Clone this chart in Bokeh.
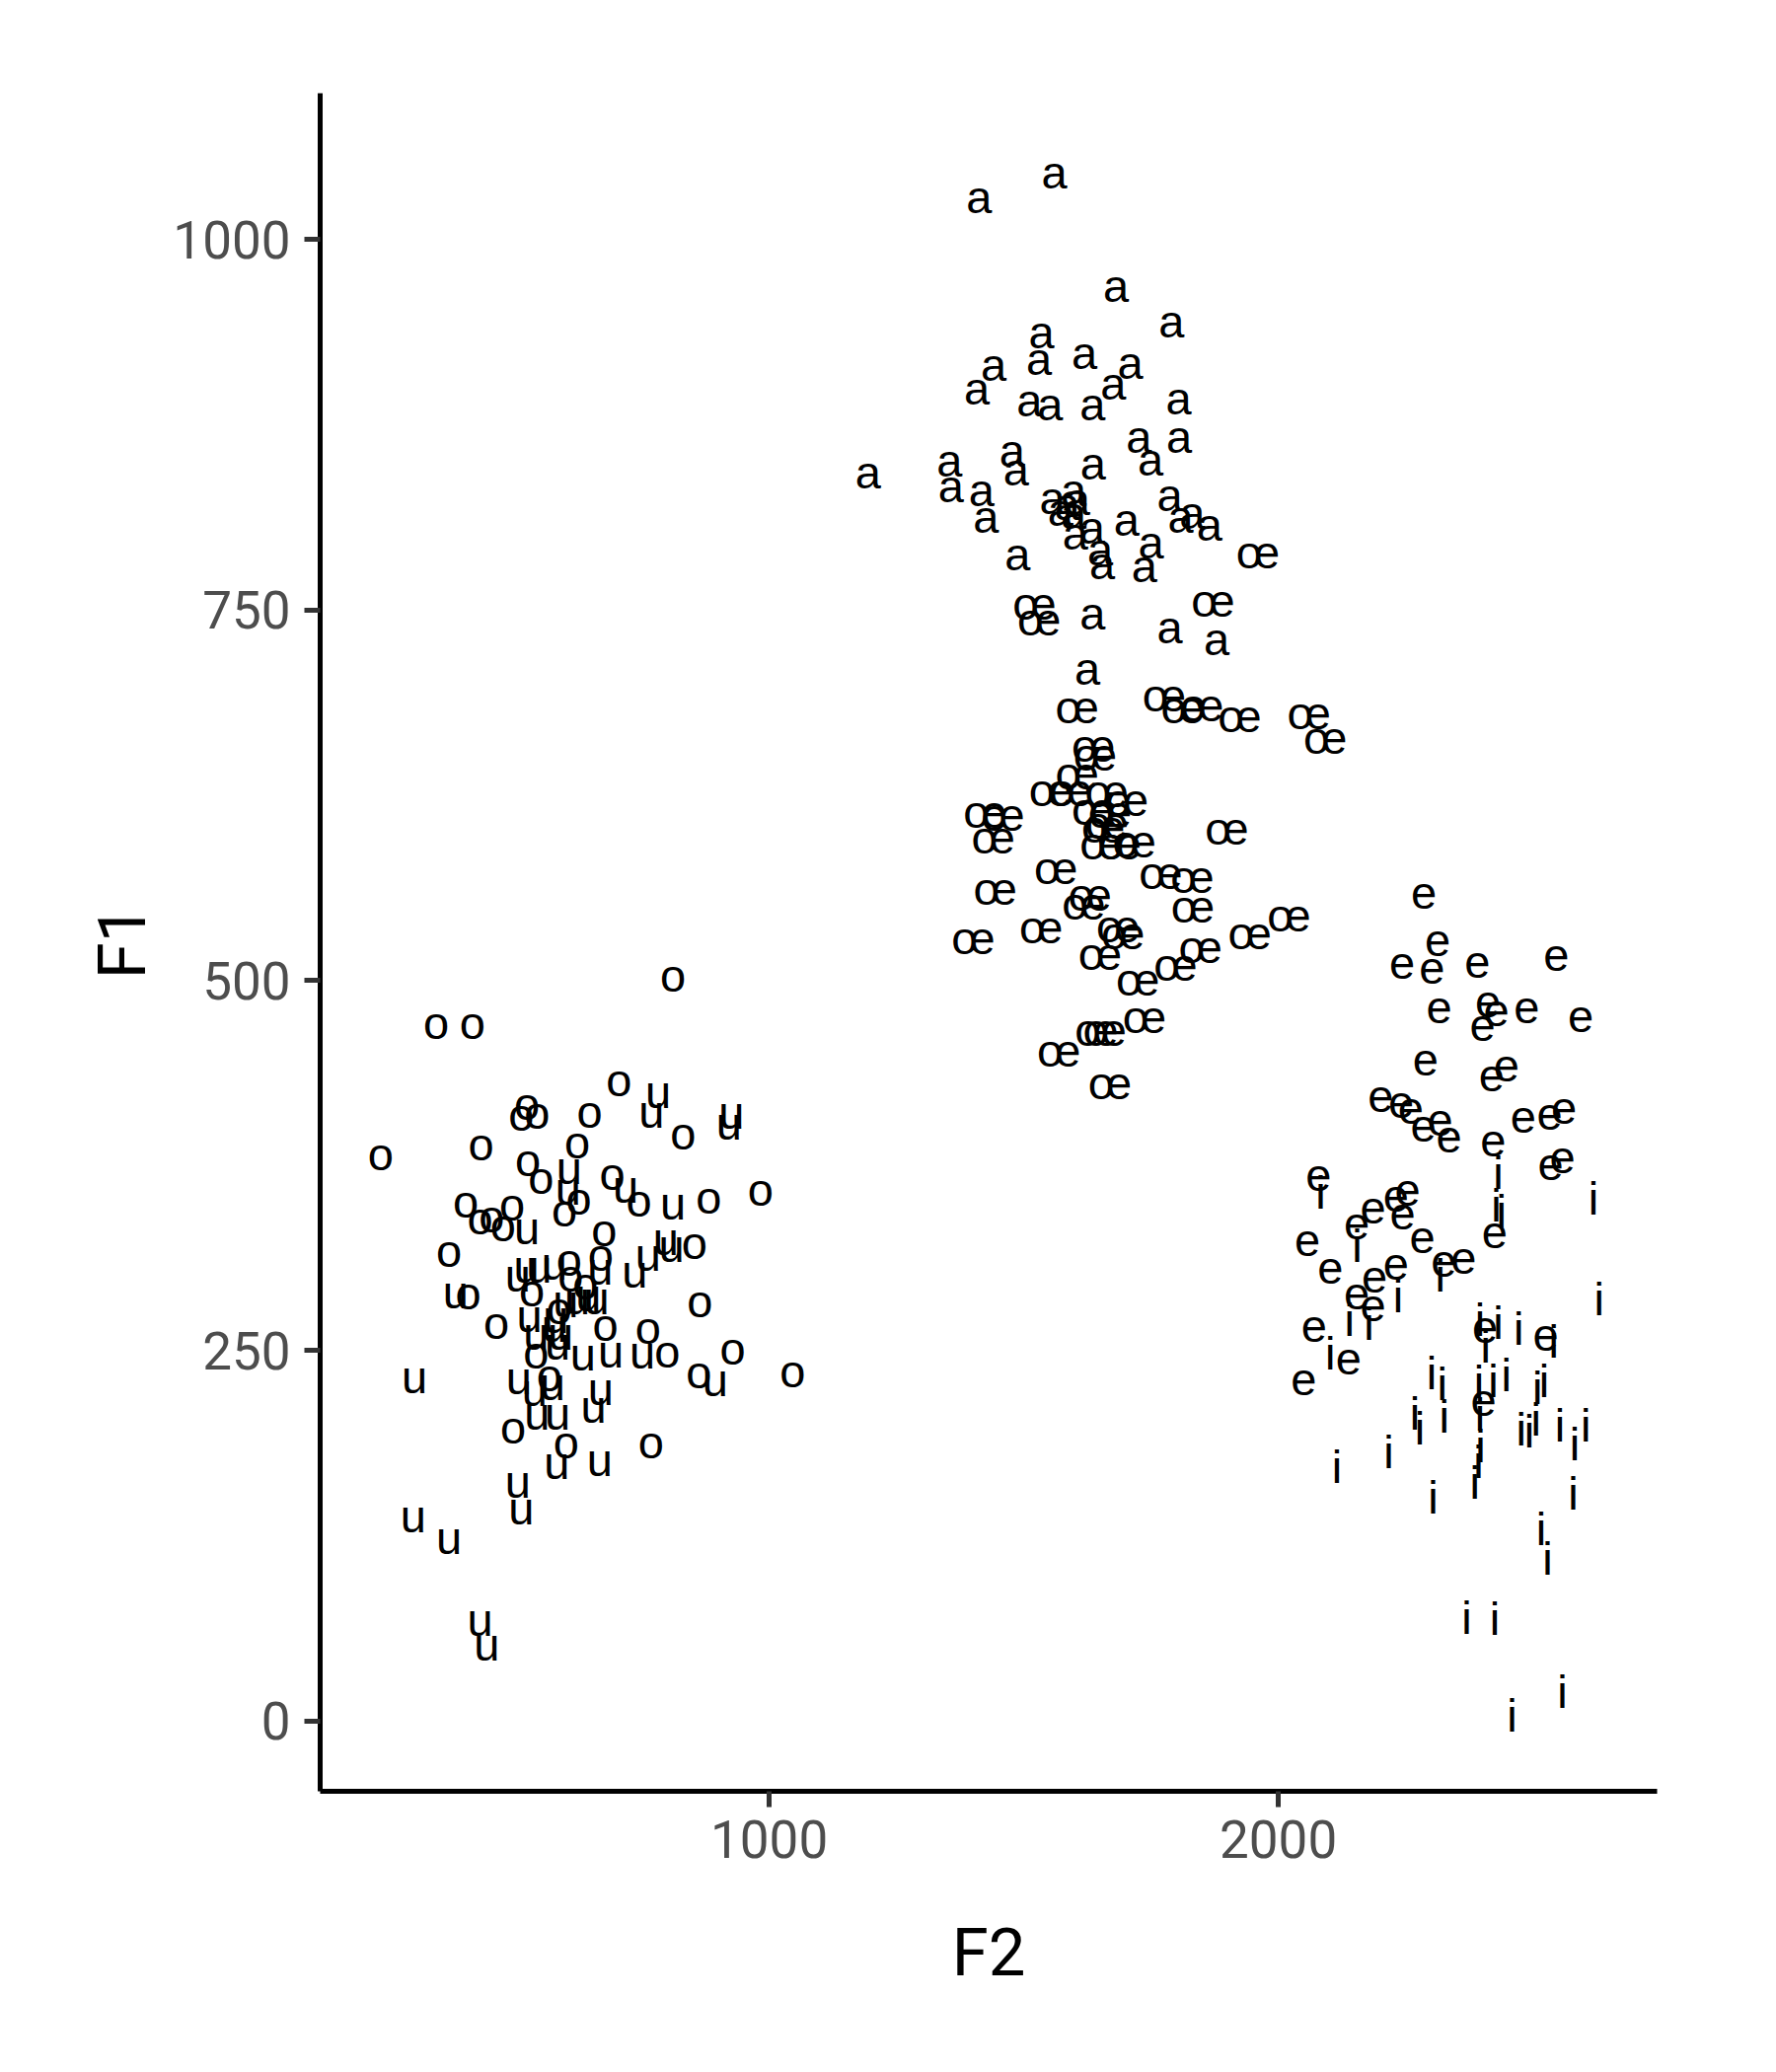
from bokeh.plotting import figure
from bokeh.models import ColumnDataSource, FixedTicker, Range1d
from bokeh.core.properties import value
from bokeh.embed import file_html
from bokeh.resources import INLINE

# ---- data (F2, F1) per vowel ----
a_f2 = [1560, 1412, 1681, 1790, 1535, 1441, 1530, 1619, 1709, 1408, 1511, 1552, 1635, 1676, 1804, 1726,
        1805, 1749, 1477, 1485, 1636, 1194, 1354, 1357, 1417, 1426, 1556, 1598, 1585, 1605, 1572, 1598,
        1601, 1634, 1702, 1650, 1654, 1750, 1737, 1787, 1808, 1831, 1865, 1488, 1635, 1787, 1879, 1625]
a_f1 = [1043, 1026, 966, 942, 935, 913, 917, 921, 914, 897, 889, 886, 886, 900, 890, 864,
        864, 849, 855, 842, 846, 840, 848, 831, 828, 810, 823, 828, 819, 822, 815, 813,
        799, 803, 808, 788, 779, 793, 777, 825, 810, 813, 805, 785, 745, 736, 728, 708]

oe_f2 = [1960, 1521, 1530, 1872, 1605, 1776, 1812, 1850, 1924, 2060, 2092, 1637, 1640, 1605, 1553, 1592,
         1663, 1702, 1637, 1669, 1663, 1656, 1653, 1688, 1717, 1424, 1459, 1440, 1899, 1563, 1769, 1831,
         1444, 1630, 1618, 1832, 2021, 1944, 1401, 1534, 1685, 1695, 1650, 1847, 1798, 1724, 1737, 1643,
         1659, 1569, 1669]
oe_f1 = [786, 752, 741, 754, 682, 690, 682, 683, 676, 678, 661, 656, 650, 637, 626, 626,
         625, 619, 613, 611, 604, 601, 590, 590, 591, 611, 609, 594, 600, 573, 570, 567,
         559, 555, 549, 547, 541, 529, 526, 533, 534, 529, 515, 520, 508, 498, 473, 464,
         464, 450, 428]

e_f2 = [2286, 2313, 2243, 2302, 2391, 2546, 2316, 2412, 2428, 2401, 2488, 2594, 2289, 2448, 2419, 2201,
        2241, 2260, 2285, 2318, 2335, 2422, 2481, 2533, 2561, 2535, 2558, 2079, 2254, 2231, 2186, 2244,
        2154, 2057, 2425, 2283, 2102, 2231, 2325, 2364, 2189, 2154, 2186, 2070, 2138, 2050, 2406, 2525,
        2403]
e_f1 = [556, 524, 509, 506, 510, 514, 479, 483, 477, 467, 479, 473, 444, 440, 433, 419,
        415, 411, 399, 403, 392, 389, 405, 407, 411, 373, 378, 366, 356, 352, 344, 340,
        333, 322, 327, 324, 303, 306, 308, 310, 297, 286, 278, 264, 242, 228, 263, 258,
        214]

i_f2 = [2432, 2083, 2619, 2428, 2438, 2155, 2318, 2235, 2140, 2178, 2102, 2630, 2396, 2432, 2407, 2472,
        2541, 2301, 2322, 2394, 2422, 2448, 2509, 2522, 2268, 2278, 2326, 2396, 2477, 2493, 2506, 2553,
        2582, 2604, 2217, 2397, 2393, 2115, 2386, 2304, 2579, 2516, 2529, 2370, 2425, 2558, 2459]
i_f1 = [370, 357, 353, 348, 344, 321, 301, 287, 271, 268, 248, 285, 271, 269, 253, 265,
        256, 235, 228, 229, 230, 234, 225, 230, 208, 198, 206, 207, 197, 196, 204, 200,
        187, 200, 182, 186, 175, 172, 161, 151, 154, 130, 110, 70, 69, 20, 4]

o_f2 = [811, 346, 417, 705, 524, 513, 544, 647, 831, 237, 434, 623, 526, 552, 692, 626,
        744, 881, 983, 404, 495, 432, 455, 477, 598, 676, 371, 853, 669, 607, 534, 610,
        639, 409, 864, 587, 464, 678, 762, 542, 800, 928, 862, 1046, 568, 497, 601, 768]
o_f1 = [501, 469, 469, 430, 414, 407, 408, 409, 394, 380, 387, 388, 376, 364, 367, 350,
        349, 351, 356, 348, 346, 337, 338, 332, 342, 329, 315, 320, 312, 309, 288, 298,
        293, 286, 281, 276, 266, 265, 263, 246, 247, 249, 233, 234, 231, 196, 186, 186]

u_f2 = [782, 769, 926, 921, 607, 718, 605, 811, 524, 797, 808, 762, 736, 506, 523, 548,
        578, 668, 384, 600, 623, 645, 661, 529, 581, 542, 590, 584, 578, 634, 689, 751,
        894, 303, 508, 539, 574, 669, 655, 544, 584, 583, 667, 506, 513, 301, 371, 432, 445]
u_f1 = [422, 409, 408, 401, 371, 358, 357, 347, 330, 323, 318, 312, 301, 298, 304, 304,
        306, 303, 287, 281, 283, 285, 283, 271, 270, 259, 259, 252, 264, 245, 247, 246,
        228, 230, 229, 221, 225, 222, 210, 205, 205, 172, 174, 159, 141, 136, 121, 66, 49]

vowel_names = ["a", "œ", "e", "i", "o", "u"]
f2_series = [a_f2, oe_f2, e_f2, i_f2, o_f2, u_f2]
f1_series = [a_f1, oe_f1, e_f1, i_f1, o_f1, u_f1]

x_ticks = [1000, 2000]
y_ticks = [0, 250, 500, 750, 1000]


def build_source(names):
    xs, ys, labels = [], [], []
    for name, f2s, f1s in zip(vowel_names, f2_series, f1_series):
        if name in names:
            xs.extend(f2s)
            ys.extend(f1s)
            labels.extend([name] * len(f2s))
    return ColumnDataSource(data=dict(f2=xs, f1=ys, vowel=labels))


src_short = build_source(["a", "œ", "e", "o", "u"])   # x-height glyphs
src_tall = build_source(["i"])                         # glyph with a dot

p = figure(width=1784, height=2084, output_backend="svg", toolbar_location=None,
           x_range=Range1d(118, 2744), y_range=Range1d(-47.3, 1098.6),
           min_border_left=324, min_border_right=105, min_border_top=94, min_border_bottom=269)
p.outline_line_color = None
p.grid.visible = False
p.background_fill_color = "white"
p.border_fill_color = "white"

text_style = dict(text_align="center", text_baseline="middle",
                  text_font=value("Liberation Sans"), text_font_size="47px", text_color="black")
p.text(x="f2", y="f1", text="vowel", source=src_short, y_offset=-4, **text_style)
p.text(x="f2", y="f1", text="vowel", source=src_tall, **text_style)

for ax in (p.xaxis[0], p.yaxis[0]):
    ax.axis_line_width = 5
    ax.axis_line_color = "black"
    ax.major_tick_line_width = 5
    ax.major_tick_line_color = "#333333"
    ax.major_tick_out = 16
    ax.major_tick_in = 0
    ax.minor_tick_line_color = None
    ax.major_label_text_font = "Roboto"
    ax.major_label_text_font_size = "53px"
    ax.major_label_text_color = "#4D4D4D"
    ax.axis_label_text_font = "Roboto"
    ax.axis_label_text_font_size = "67px"
    ax.axis_label_text_font_style = "normal"
    ax.axis_label_text_color = "black"

p.xaxis[0].ticker = FixedTicker(ticks=x_ticks)
p.yaxis[0].ticker = FixedTicker(ticks=y_ticks)
p.xaxis[0].axis_label = "F2"
p.yaxis[0].axis_label = "F1"
p.xaxis[0].major_label_standoff = 13
p.xaxis[0].axis_label_standoff = 54
p.yaxis[0].major_label_standoff = 14
p.yaxis[0].axis_label_standoff = 9

open("out.html", "w").write(file_html(p, INLINE))
